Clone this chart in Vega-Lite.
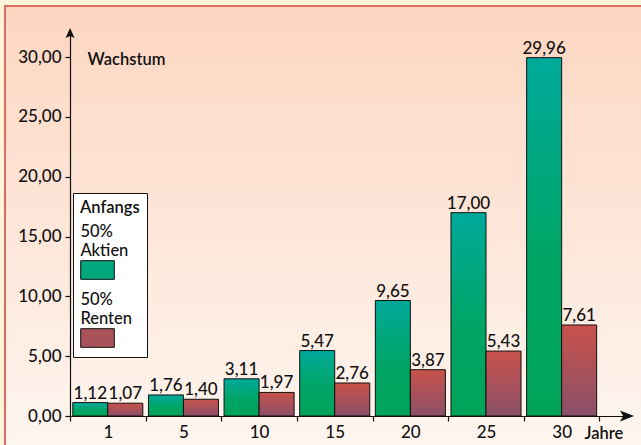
{
  "$schema": "https://vega.github.io/schema/vega-lite/v6.json",
  "width": 640,
  "height": 443,
  "autosize": {"type": "none"},
  "padding": {"left": 5, "top": 6, "right": -4, "bottom": -4},
  "background": "#fff3d8",
  "config": {
    "locale": {"number": {"decimal": ",", "thousands": ".", "grouping": [3], "currency": ["", " €"]}},
    "view": {
      "fill": {"gradient": "linear", "x1": 0, "y1": 0, "x2": 0, "y2": 1, "stops": [{"offset": 0, "color": "#fdd6c1"}, {"offset": 1, "color": "#fef6f0"}]},
      "stroke": "#e06a64",
      "strokeWidth": 2
    },
    "font": "Lato"
  },
  "data": {
    "values": [
      {"year": 1, "type": "50% Aktien", "value": 1.12},
      {"year": 1, "type": "50% Renten", "value": 1.07},
      {"year": 5, "type": "50% Aktien", "value": 1.76},
      {"year": 5, "type": "50% Renten", "value": 1.40},
      {"year": 10, "type": "50% Aktien", "value": 3.11},
      {"year": 10, "type": "50% Renten", "value": 1.97},
      {"year": 15, "type": "50% Aktien", "value": 5.47},
      {"year": 15, "type": "50% Renten", "value": 2.76},
      {"year": 20, "type": "50% Aktien", "value": 9.65},
      {"year": 20, "type": "50% Renten", "value": 3.87},
      {"year": 25, "type": "50% Aktien", "value": 17.00},
      {"year": 25, "type": "50% Renten", "value": 5.43},
      {"year": 30, "type": "50% Aktien", "value": 29.96},
      {"year": 30, "type": "50% Renten", "value": 7.61}
    ]
  },
  "layer": [
    {
      "mark": {"type": "bar", "stroke": "#111111", "strokeWidth": 1},
      "encoding": {
        "x": {
          "field": "year", "type": "ordinal",
          "scale": {"range": [65, 622], "paddingInner": 0, "paddingOuter": 0.182, "align": 0},
          "axis": {
            "orient": "bottom", "offset": -33, "domain": true, "domainColor": "#111111", "domainWidth": 1.2,
            "tickBand": "extent", "ticks": true, "tickSize": 5, "tickColor": "#111111", "tickWidth": 1.2,
            "labelAngle": 0, "labelFont": "Lato", "labelFontSize": 17, "labelFontWeight": 500, "labelColor": "#111111", "labelPadding": 3.5,
            "grid": false,
            "title": "Jahre", "titleX": 579, "titleY": 22, "titleAlign": "left", "titleAnchor": "start", "titleBaseline": "alphabetic",
            "titleFont": "Lato", "titleFontSize": 16.5, "titleFontWeight": 600, "titleColor": "#111111"
          }
        },
        "xOffset": {"field": "type", "type": "nominal", "scale": {"paddingOuter": 0.08, "paddingInner": 0}},
        "y": {
          "field": "value", "type": "quantitative",
          "scale": {"domain": [0, 32.02], "range": [410, 27], "nice": false, "zero": false},
          "axis": {
            "orient": "left", "offset": -65, "domain": true, "domainColor": "#111111", "domainWidth": 1.2,
            "values": [0, 5, 10, 15, 20, 25, 30], "format": ".2f",
            "ticks": true, "tickSize": 5, "tickColor": "#111111", "tickWidth": 1.2,
            "labelFont": "Lato", "labelFontSize": 17, "labelFontWeight": 500, "labelColor": "#111111", "labelPadding": 4,
            "grid": false,
            "title": "Wachstum", "titleAngle": 0, "titleX": 17, "titleY": 58, "titleAlign": "left", "titleBaseline": "alphabetic",
            "titleFont": "Lato", "titleFontSize": 16.5, "titleFontWeight": 600, "titleColor": "#111111"
          }
        },
        "fill": {
          "condition": [
            {"test": "datum.type === '50% Aktien'", "value": {"gradient": "linear", "x1": 0, "y1": 0, "x2": 0, "y2": 1, "stops": [{"offset": 0, "color": "#00a99b"}, {"offset": 0.55, "color": "#00a566"}, {"offset": 1, "color": "#00a458"}]}},
            {"test": "datum.type === '50% Renten'", "value": {"gradient": "linear", "x1": 0, "y1": 0, "x2": 0, "y2": 1, "stops": [{"offset": 0, "color": "#c9524a"}, {"offset": 1, "color": "#8a5069"}]}}
          ],
          "field": "type", "type": "nominal",
          "scale": {"range": ["#00a67c", "#aa525a"]},
          "legend": {
            "orient": "none", "legendX": 68, "legendY": 187, "direction": "vertical",
            "title": "Anfangs", "titleFont": "Lato", "titleFontSize": 16.5, "titleFontWeight": 600, "titleColor": "#111111", "titlePadding": 3,
            "labelFont": "Lato", "labelFontSize": 16.5, "labelFontWeight": 500, "labelColor": "#111111",
            "labelExpr": "split(datum.label, ' ')", "labelBaseline": "alphabetic", "labelOffset": -34.6, "labelAlign": "left", "labelLimit": 200,
            "symbolType": "M-1,1.41H1V2.52H-1Z", "symbolSize": 1129, "symbolStrokeColor": "#111111", "symbolStrokeWidth": 1, "symbolOpacity": 1,
            "fillColor": "#ffffff", "strokeColor": "#111111", "padding": 7, "rowPadding": 6
          }
        }
      }
    },
    {
      "mark": {"type": "text", "dy": -4, "baseline": "alphabetic", "fontSize": 17, "fontWeight": 500, "font": "Lato", "color": "#111111"},
      "encoding": {
        "x": {"field": "year", "type": "ordinal"},
        "xOffset": {"field": "type", "type": "nominal"},
        "y": {"field": "value", "type": "quantitative"},
        "text": {"field": "value", "type": "quantitative", "format": ".2f"}
      }
    },
    {
      "data": {"values": [{"end": "y"}]},
      "mark": {"type": "point", "shape": "M0,-1L0.9,1L0,0.6L-0.9,1Z", "filled": true, "color": "#111111", "size": 100, "opacity": 1},
      "encoding": {
        "x": {"datum": 1, "type": "ordinal", "bandPosition": 0.001},
        "y": {"datum": 32.02, "type": "quantitative"}
      }
    },
    {
      "data": {"values": [{"end": "x"}]},
      "mark": {"type": "point", "shape": "M1,0L-1,-0.8L-0.55,0L-1,0.8Z", "filled": true, "color": "#111111", "size": 196, "opacity": 1},
      "encoding": {
        "x": {"datum": 30, "type": "ordinal", "bandPosition": 1.364},
        "y": {"datum": 0, "type": "quantitative"}
      }
    }
  ]
}
